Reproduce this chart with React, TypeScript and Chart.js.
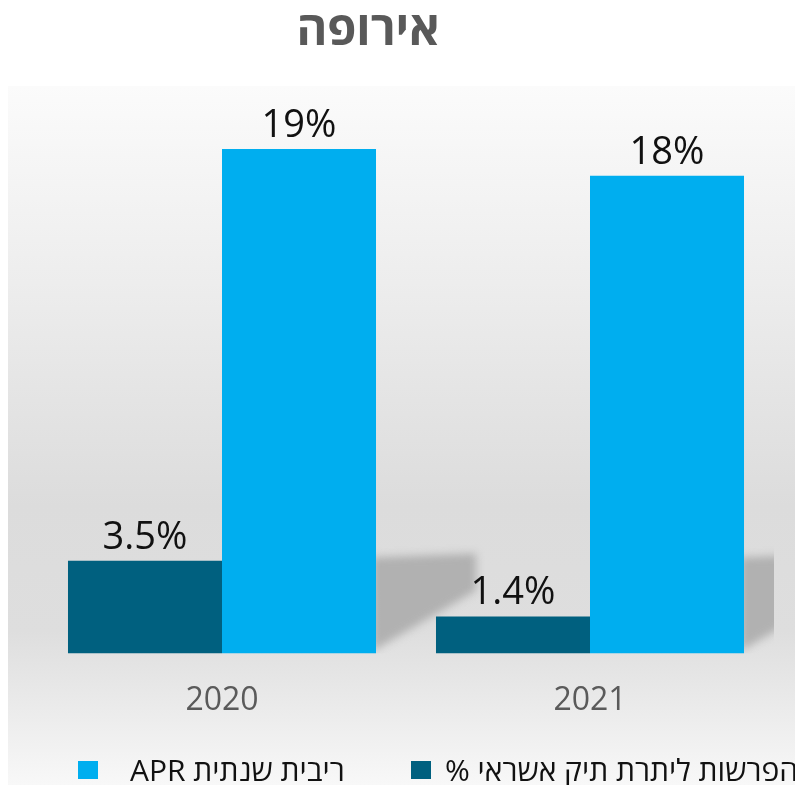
import React, { useEffect, useRef } from 'react';
import { Chart, registerables } from 'chart.js';

Chart.register(...registerables);

const chartTitle = 'אירופה';
const categories = ['2020', '2021'];
const provisionLabel = 'הפרשות ליתרת תיק אשראי %';
const aprLabel = 'ריבית שנתית APR';
const provisionValues = [3.5, 1.4];
const aprValues = [19, 18];
const valueLabelsProvision = ['3.5%', '1.4%'];
const valueLabelsApr = ['19%', '18%'];

const FONT = '"Open Sans", "Noto Sans", "DejaVu Sans", sans-serif';
const DARK = '#00607F';
const BLUE = '#00AEEF';

const decorPlugin = {
  id: 'decor',
  beforeDraw(chart: any) {
    const ctx = chart.ctx;
    ctx.save();
    ctx.fillStyle = '#ffffff';
    ctx.fillRect(0, 0, chart.width, chart.height);
    const g = ctx.createLinearGradient(0, 86, 0, 785);
    g.addColorStop(0, '#fbfbfb');
    g.addColorStop(0.3, '#ececec');
    g.addColorStop(0.6, '#dcdcdc');
    g.addColorStop(0.78, '#dedede');
    g.addColorStop(0.9, '#ececec');
    g.addColorStop(1, '#f8f8f8');
    ctx.fillStyle = g;
    ctx.fillRect(8, 86, chart.width - 8, chart.height - 86);
    // title
    ctx.fillStyle = '#595959';
    ctx.font = 'bold 47px ' + FONT;
    ctx.textAlign = 'center';
    ctx.textBaseline = 'alphabetic';
    ctx.direction = 'rtl';
    ctx.fillText(chartTitle, 368, 45);
    ctx.restore();
  },
  beforeDatasetsDraw(chart: any) {
    const ctx = chart.ctx;
    const area = chart.chartArea;
    const meta = chart.getDatasetMeta(1);
    ctx.save();
    ctx.beginPath();
    ctx.rect(area.left, area.top, area.right - area.left, area.bottom - area.top);
    ctx.clip();
    ctx.filter = 'blur(4px)';
    ctx.fillStyle = 'rgba(140,140,140,0.55)';
    meta.data.forEach((bar: any) => {
      const right = bar.x + bar.width / 2;
      const base = bar.base;
      ctx.beginPath();
      ctx.moveTo(right - 4, base - 96);
      ctx.lineTo(right + 100, base - 100);
      ctx.lineTo(right + 100, base - 63);
      ctx.lineTo(right - 4, base - 2);
      ctx.closePath();
      ctx.fill();
    });
    ctx.restore();
  },
  afterDatasetsDraw(chart: any) {
    const ctx = chart.ctx;
    ctx.save();
    ctx.fillStyle = '#111111';
    ctx.font = '38px ' + FONT;
    ctx.textAlign = 'center';
    ctx.textBaseline = 'alphabetic';
    const sets = [valueLabelsProvision, valueLabelsApr];
    sets.forEach((labels, di) => {
      const meta = chart.getDatasetMeta(di);
      meta.data.forEach((bar: any, i: number) => {
        ctx.fillText(labels[i], bar.x, bar.y - 12);
      });
    });
    ctx.restore();
  },
  afterDraw(chart: any) {
    const ctx = chart.ctx;
    const ds = chart.data.datasets;
    // legend: APR first (left), then provisions
    const items = [
      { box: 78, text: 130, ds: ds[1] },
      { box: 411, text: 445, ds: ds[0] },
    ];
    ctx.save();
    ctx.font = '30px ' + FONT;
    ctx.textBaseline = 'middle';
    items.forEach((it) => {
      ctx.fillStyle = it.ds.backgroundColor;
      ctx.fillRect(it.box, 761, 20, 18);
      ctx.fillStyle = '#111111';
      ctx.direction = 'rtl';
      ctx.textAlign = 'left';
      ctx.fillText(it.ds.label, it.text, 772);
    });
    ctx.restore();
  },
};

export default function App() {
  const ref = useRef<HTMLCanvasElement>(null);
  useEffect(() => {
    if (!ref.current) return;
    const chart = new Chart(ref.current, {
      type: 'bar',
      data: {
        labels: categories,
        datasets: [
          { label: provisionLabel, data: provisionValues, backgroundColor: DARK },
          { label: aprLabel, data: aprValues, backgroundColor: BLUE },
        ],
      },
      options: {
        responsive: false,
        animation: false,
        layout: { padding: { left: 38, right: 21, top: 96, bottom: 37 } },
        datasets: { bar: { categoryPercentage: 0.837, barPercentage: 1.0 } } as any,
        plugins: {
          legend: { display: false },
          title: { display: false },
          tooltip: { enabled: false },
        },
        scales: {
          x: {
            grid: { display: false, drawTicks: false },
            border: { display: false },
            ticks: { font: { size: 32, family: FONT }, color: '#5a5a5a', padding: 28 },
          },
          y: { display: false, min: 0, max: 21 },
        },
      },
      plugins: [decorPlugin],
    });
    return () => chart.destroy();
  }, []);
  return (
    <div style={{ position: 'fixed', left: 0, top: 0, width: 795, height: 785 }}>
      <canvas ref={ref} width={795} height={785} style={{ width: 795, height: 785, display: 'block' }} />
    </div>
  );
}
